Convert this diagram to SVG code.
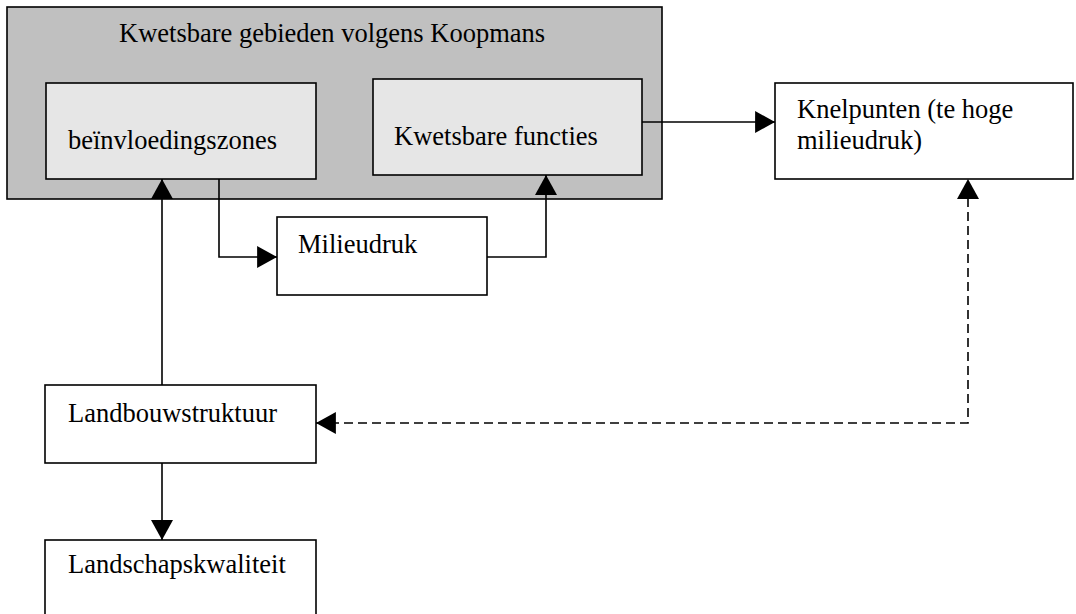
<svg xmlns="http://www.w3.org/2000/svg" width="1076" height="614" viewBox="0 0 1076 614">
<defs>
<style>
.box{fill:#ffffff;stroke:#000;stroke-width:1.6}
.outer{fill:#c0c0c0;stroke:#000;stroke-width:1.6}
.inner{fill:#e6e6e6;stroke:#000;stroke-width:1.6}
.t{font-family:"Liberation Serif","Times New Roman",serif;font-size:26.5px;fill:#000}
.c{fill:none;stroke:#000;stroke-width:1.6}
.d{fill:none;stroke:#000;stroke-width:1.6;stroke-dasharray:9 5}
</style>
<marker id="ah" markerUnits="userSpaceOnUse" markerWidth="20" markerHeight="22" viewBox="0 0 19 21" refX="19" refY="10.5" orient="auto-start-reverse">
<path d="M0,0 L19,10.5 L0,21 Z" fill="#000"/>
</marker>
</defs>
<rect width="1076" height="614" fill="#ffffff"/>
<g id="kwetsbare-gebieden">
<rect class="outer" x="7" y="7" width="655" height="192"/>
<text class="t" x="119" y="42">Kwetsbare gebieden volgens Koopmans</text>
</g>
<g id="beinvloedingszones">
<rect class="inner" x="46" y="83" width="270" height="96"/>
<text class="t" x="68" y="149">beïnvloedingszones</text>
</g>
<g id="kwetsbare-functies">
<rect class="inner" x="373" y="79" width="269" height="96"/>
<text class="t" x="394" y="145">Kwetsbare functies</text>
</g>
<g id="knelpunten">
<rect class="box" x="775" y="83" width="298" height="96"/>
<text class="t" x="797" y="118">Knelpunten (te hoge</text>
<text class="t" x="797" y="149">milieudruk)</text>
</g>
<g id="milieudruk">
<rect class="box" x="277" y="217" width="210" height="78"/>
<text class="t" x="298" y="253">Milieudruk</text>
</g>
<g id="landbouwstruktuur">
<rect class="box" x="45" y="385" width="271" height="78"/>
<text class="t" x="68" y="422">Landbouwstruktuur</text>
</g>
<g id="landschapskwaliteit">
<rect class="box" x="45" y="540" width="271" height="90"/>
<text class="t" x="68" y="573">Landschapskwaliteit</text>
</g>
<g id="connectors">
<path class="c" d="M642,122 H775" marker-end="url(#ah)"/>
<path class="c" d="M219,179 V257 H277" marker-end="url(#ah)"/>
<path class="c" d="M487,257 H546 V175" marker-end="url(#ah)"/>
<path class="c" d="M162,385 V179" marker-end="url(#ah)"/>
<path class="c" d="M162,463 V540" marker-end="url(#ah)"/>
<path class="d" d="M316,423 H968 V179" marker-start="url(#ah)" marker-end="url(#ah)"/>
</g>
</svg>
